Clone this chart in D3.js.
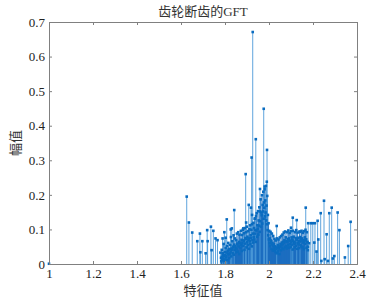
<!DOCTYPE html>
<html>
<head>
<meta charset="utf-8">
<script src="https://cdn.jsdelivr.net/npm/d3@7"></script>
<style>
  body { margin: 0; background: #fff; }
  svg { display: block; }
  text { font-family: "Liberation Serif", "Noto Sans CJK SC", serif; }
</style>
</head>
<body>
<div class="chart"></div>
<script>
// stem data: [eigenvalue, magnitude]
const originStems = [[1.0, 0.0008]];
const leftStems = [
  [1.626, 0.195], [1.636, 0.120], [1.651, 0.091], [1.674, 0.066], [1.686, 0.088],
  [1.688, 0.034], [1.697, 0.066], [1.712, 0.031], [1.719, 0.098], [1.721, 0.066],
  [1.736, 0.108], [1.739, 0.040], [1.747, 0.096], [1.757, 0.074], [1.766, 0.069],
  [1.779, 0.033], [1.789, 0.074], [1.797, 0.092], [1.803, 0.076], [1.808, 0.129],
  [1.826, 0.100], [1.831, 0.103], [1.842, 0.156]
];
const peakStems = [
  [1.883, 0.103], [1.894, 0.260], [1.896, 0.120], [1.908, 0.171], [1.918, 0.163],
  [1.921, 0.308], [1.923, 0.142], [1.926, 0.671], [1.937, 0.132], [1.940, 0.361],
  [1.959, 0.217], [1.976, 0.449], [1.980, 0.224], [1.990, 0.238], [1.991, 0.330],
  [2.035, 0.110]
];
const denseStems = [
  [1.782, 0.018], [1.785, 0.041], [1.788, 0.012], [1.791, 0.027], [1.794, 0.058],
  [1.797, 0.022], [1.800, 0.035], [1.803, 0.046], [1.806, 0.019], [1.809, 0.052],
  [1.812, 0.038], [1.815, 0.061], [1.818, 0.029], [1.821, 0.044], [1.824, 0.055],
  [1.827, 0.078], [1.830, 0.041], [1.833, 0.066], [1.836, 0.050], [1.839, 0.083],
  [1.842, 0.056], [1.845, 0.074], [1.848, 0.047], [1.851, 0.069], [1.854, 0.088],
  [1.857, 0.059], [1.860, 0.092], [1.863, 0.064], [1.866, 0.085], [1.869, 0.061],
  [1.872, 0.096], [1.875, 0.070], [1.878, 0.084], [1.881, 0.099], [1.884, 0.068],
  [1.887, 0.089], [1.890, 0.104], [1.893, 0.075], [1.896, 0.092], [1.899, 0.108],
  [1.902, 0.079], [1.905, 0.095], [1.908, 0.074], [1.911, 0.101], [1.914, 0.112],
  [1.917, 0.083], [1.920, 0.099], [1.923, 0.115], [1.926, 0.088], [1.929, 0.119],
  [1.932, 0.104], [1.935, 0.131], [1.938, 0.098], [1.941, 0.139], [1.944, 0.147],
  [1.947, 0.112], [1.950, 0.153], [1.953, 0.126], [1.956, 0.164], [1.959, 0.152],
  [1.962, 0.187], [1.965, 0.149], [1.968, 0.199], [1.971, 0.171], [1.974, 0.209],
  [1.977, 0.178], [1.980, 0.216], [1.983, 0.184], [1.986, 0.226], [1.989, 0.169],
  [1.992, 0.197], [1.995, 0.142], [1.998, 0.118], [2.001, 0.096], [2.004, 0.074],
  [2.007, 0.093], [2.010, 0.066], [2.013, 0.088], [2.016, 0.061], [2.019, 0.081],
  [2.022, 0.057], [2.025, 0.073], [2.028, 0.051], [2.031, 0.068], [2.034, 0.047],
  [2.037, 0.074], [2.040, 0.055], [2.043, 0.071], [2.046, 0.050], [2.049, 0.077],
  [2.052, 0.058], [2.055, 0.081], [2.058, 0.062], [2.061, 0.085], [2.064, 0.064],
  [2.067, 0.091], [2.070, 0.069], [2.073, 0.094], [2.076, 0.077], [2.079, 0.066],
  [2.082, 0.092], [2.085, 0.072], [2.088, 0.097], [2.091, 0.074], [2.094, 0.090],
  [2.097, 0.068], [2.100, 0.095], [2.103, 0.077], [2.106, 0.071], [2.109, 0.096],
  [2.112, 0.079], [2.115, 0.064], [2.118, 0.092], [2.121, 0.075], [2.124, 0.098],
  [2.127, 0.070], [2.130, 0.091], [2.133, 0.076], [2.136, 0.067], [2.139, 0.094],
  [2.142, 0.078], [2.145, 0.072], [2.148, 0.096], [2.151, 0.074], [2.154, 0.090],
  [2.157, 0.069], [2.160, 0.095], [2.163, 0.077], [2.166, 0.099], [2.169, 0.071],
  [2.172, 0.092], [2.175, 0.064]
];
const innerStems = [
  [1.7835, 0.008], [1.7865, 0.021], [1.7895, 0.031], [1.7925, 0.015], [1.7955, 0.009],
  [1.7985, 0.026], [1.8015, 0.013], [1.8045, 0.024], [1.8075, 0.033], [1.8105, 0.011],
  [1.8135, 0.028], [1.8165, 0.042], [1.8195, 0.017], [1.8225, 0.030], [1.8255, 0.036],
  [1.8285, 0.022], [1.8315, 0.045], [1.8345, 0.031], [1.8375, 0.049], [1.8405, 0.027],
  [1.8435, 0.041], [1.8465, 0.052], [1.8495, 0.034], [1.8525, 0.043], [1.8555, 0.058],
  [1.8585, 0.036], [1.8615, 0.051], [1.8645, 0.029], [1.8675, 0.062], [1.8705, 0.047],
  [1.8735, 0.055], [1.8765, 0.038], [1.8795, 0.060], [1.8825, 0.052], [1.8855, 0.067],
  [1.8885, 0.041], [1.8915, 0.059], [1.8945, 0.072], [1.8975, 0.048], [1.9005, 0.063],
  [1.9035, 0.055], [1.9065, 0.070], [1.9095, 0.044], [1.9125, 0.066], [1.9155, 0.058],
  [1.9185, 0.075], [1.9215, 0.051], [1.9245, 0.069], [1.9275, 0.062], [1.9305, 0.078],
  [1.9335, 0.071], [1.9365, 0.088], [1.9395, 0.064], [1.9425, 0.097], [1.9455, 0.079],
  [1.9485, 0.102], [1.9515, 0.085], [1.9545, 0.111], [1.9575, 0.093], [1.9605, 0.124],
  [1.9635, 0.108], [1.9665, 0.141], [1.9695, 0.117], [1.9725, 0.152], [1.9755, 0.131],
  [1.9785, 0.163], [1.9815, 0.138], [1.9845, 0.149], [1.9875, 0.126], [1.9905, 0.115],
  [1.9935, 0.098], [1.9965, 0.083], [1.9995, 0.071], [2.0025, 0.061], [2.0055, 0.052],
  [2.0085, 0.068], [2.0115, 0.044], [2.0145, 0.057], [2.0175, 0.039], [2.0205, 0.053],
  [2.0235, 0.046], [2.0265, 0.041], [2.0295, 0.035], [2.0325, 0.043], [2.0355, 0.031],
  [2.0385, 0.048], [2.0415, 0.037], [2.0445, 0.045], [2.0475, 0.029], [2.0505, 0.051],
  [2.0535, 0.040], [2.0565, 0.054], [2.0595, 0.046], [2.0625, 0.057], [2.0655, 0.043],
  [2.0685, 0.061], [2.0715, 0.049], [2.0745, 0.066], [2.0775, 0.052], [2.0805, 0.045],
  [2.0835, 0.063], [2.0865, 0.054], [2.0895, 0.069], [2.0925, 0.047], [2.0955, 0.058],
  [2.0985, 0.050], [2.1015, 0.064], [2.1045, 0.056], [2.1075, 0.042], [2.1105, 0.067],
  [2.1135, 0.059], [2.1165, 0.048], [2.1195, 0.061], [2.1225, 0.053], [2.1255, 0.070],
  [2.1285, 0.044], [2.1315, 0.060], [2.1345, 0.057], [2.1375, 0.046], [2.1405, 0.065],
  [2.1435, 0.055], [2.1465, 0.051], [2.1495, 0.068], [2.1525, 0.049], [2.1555, 0.062],
  [2.1585, 0.043], [2.1615, 0.066], [2.1645, 0.058], [2.1675, 0.071], [2.1705, 0.047],
  [2.1735, 0.063], [2.1765, 0.040]
];
const rightStems = [
  [2.100, 0.105], [2.108, 0.134], [2.126, 0.127], [2.141, 0.093], [2.167, 0.163],
  [2.177, 0.050], [2.178, 0.118], [2.182, 0.060], [2.190, 0.118], [2.199, 0.118],
  [2.206, 0.062], [2.209, 0.118], [2.216, 0.036], [2.221, 0.125], [2.224, 0.071],
  [2.235, 0.147], [2.238, 0.009], [2.250, 0.183], [2.253, 0.014], [2.262, 0.086],
  [2.268, 0.009], [2.274, 0.147], [2.285, 0.163], [2.290, 0.016], [2.297, 0.023],
  [2.312, 0.149], [2.320, 0.098], [2.345, 0.019], [2.360, 0.052], [2.371, 0.122]
];

const xTicks = [1, 1.2, 1.4, 1.6, 1.8, 2, 2.2, 2.4];
const yTicks = [0, 0.1, 0.2, 0.3, 0.4, 0.5, 0.6, 0.7];
const titleText = '齿轮断齿的GFT';
const xLabel = '特征值';
const yLabel = '幅值';

const width = 368;
const height = 304;
const margin = { top: 22, right: 11, bottom: 40, left: 49 };

const x = d3.scaleLinear()
  .domain([1, 2.4])
  .range([margin.left, width - margin.right]);
const y = d3.scaleLinear()
  .domain([0, 0.7])
  .range([height - margin.bottom, margin.top]);

const svg = d3.select('.chart').append('svg')
  .attr('width', width)
  .attr('height', height);

const sparse = [].concat(originStems, leftStems, peakStems, rightStems);
const dense = [].concat(denseStems, innerStems);

// thin stems look light where sparse, packed ones merge into solid blue
const drawStems = (data, color) => {
  svg.append('g')
    .selectAll('line')
    .data(data)
    .enter()
    .append('line')
    .attr('x1', d => x(d[0]))
    .attr('x2', d => x(d[0]))
    .attr('y1', y(0))
    .attr('y2', d => y(d[1]))
    .attr('stroke', color)
    .attr('stroke-width', 0.9);
};
drawStems(dense, '#1a6cbf');
drawStems(sparse, '#4d9ad8');

svg.append('g')
  .selectAll('rect')
  .data(dense.concat(sparse))
  .enter()
  .append('rect')
  .attr('x', d => x(d[0]) - 1.3)
  .attr('y', d => y(d[1]) - 1.3)
  .attr('width', 2.6)
  .attr('height', 2.6)
  .attr('fill', '#0a6cc0');

// axes, MATLAB style box with inward ticks
const axisColor = '#808080';
const styleAxis = g => {
  g.select('.domain').attr('stroke', axisColor);
  g.selectAll('.tick line').attr('stroke', axisColor);
  g.selectAll('.tick text')
    .attr('fill', '#222')
    .style('font-size', '13px')
    .style('font-family', '"Liberation Serif", serif');
};

svg.append('g')
  .attr('transform', `translate(0,${y(0)})`)
  .call(d3.axisBottom(x).tickValues(xTicks).tickSize(-3).tickPadding(5).tickFormat(d3.format('')))
  .call(styleAxis);
svg.append('g')
  .attr('transform', `translate(0,${y(0.7)})`)
  .call(d3.axisTop(x).tickValues(xTicks).tickSize(-3).tickFormat(''))
  .call(styleAxis);
svg.append('g')
  .attr('transform', `translate(${x(1)},0)`)
  .call(d3.axisLeft(y).tickValues(yTicks).tickSize(-3).tickPadding(4).tickFormat(d3.format('')))
  .call(styleAxis);
svg.append('g')
  .attr('transform', `translate(${x(2.4)},0)`)
  .call(d3.axisRight(y).tickValues(yTicks).tickSize(-3).tickFormat(''))
  .call(styleAxis);

svg.append('text')
  .attr('x', (x(1) + x(2.4)) / 2)
  .attr('y', 16)
  .attr('text-anchor', 'middle')
  .attr('fill', '#333')
  .style('font-size', '13px')
  .text(titleText);

svg.append('text')
  .attr('x', (x(1) + x(2.4)) / 2)
  .attr('y', 295)
  .attr('text-anchor', 'middle')
  .attr('fill', '#333')
  .style('font-size', '13px')
  .text(xLabel);

svg.append('text')
  .attr('transform', `translate(20,${(y(0) + y(0.7)) / 2}) rotate(-90)`)
  .attr('text-anchor', 'middle')
  .attr('fill', '#333')
  .style('font-size', '13px')
  .text(yLabel);
</script>
</body>
</html>
